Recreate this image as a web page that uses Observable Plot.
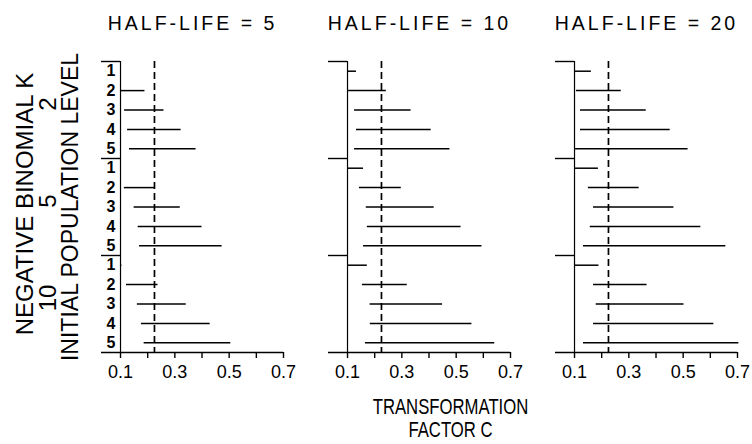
<!DOCTYPE html>
<html><head><meta charset="utf-8">
<script src="https://cdn.jsdelivr.net/npm/d3@7"></script>
<script src="https://cdn.jsdelivr.net/npm/@observablehq/plot@0.6"></script>
<style>
body{margin:0;background:#fff}
</style></head><body><div id="chart"></div>
<script>
// ---- data ----
const halfLives = [5, 10, 20];
const kValues = [2, 5, 10];
const popLevels = [1, 2, 3, 4, 5];
const xTicks = [0.1, 0.2, 0.3, 0.4, 0.5, 0.6, 0.7];
const xTickLabels = [0.1, 0.3, 0.5, 0.7];
const trueC = 0.225;
const axisC = 0.1;
const xStart = 0.03;
// interval ends, 15 rows each: K=2 levels 1-5, K=5 levels 1-5, K=10 levels 1-5
const lowHL5   = [0.100, 0.100, 0.115, 0.126, 0.133, 0.100, 0.114, 0.150, 0.165, 0.170, 0.100, 0.122, 0.162, 0.177, 0.187];
const highHL5  = [0.100, 0.190, 0.260, 0.323, 0.378, 0.100, 0.225, 0.320, 0.400, 0.474, 0.105, 0.238, 0.342, 0.430, 0.506];
const lowHL10  = [0.100, 0.104, 0.126, 0.133, 0.126, 0.100, 0.144, 0.169, 0.173, 0.159, 0.100, 0.155, 0.183, 0.184, 0.166];
const highHL10 = [0.133, 0.243, 0.334, 0.408, 0.477, 0.159, 0.298, 0.419, 0.518, 0.595, 0.173, 0.320, 0.450, 0.558, 0.642];
const lowHL20  = [0.100, 0.107, 0.122, 0.122, 0.104, 0.100, 0.151, 0.170, 0.158, 0.133, 0.100, 0.170, 0.180, 0.170, 0.133];
const highHL20 = [0.162, 0.272, 0.364, 0.452, 0.518, 0.188, 0.338, 0.466, 0.565, 0.657, 0.190, 0.367, 0.503, 0.613, 0.705];

const lows = [lowHL5, lowHL10, lowHL20];
const highs = [highHL5, highHL10, highHL20];
const rows = [];
halfLives.forEach((hl, h) => {
  kValues.forEach((k, g) => {
    popLevels.forEach((lev, j) => {
      const i = g * popLevels.length + j;
      rows.push({hl, k, level: lev, row: i, lo: lows[h][i], hi: highs[h][i]});
    });
  });
});
const nRows = kValues.length * popLevels.length;
const yTop = -0.5, yBottom = nRows - 0.5;
const groupBounds = kValues.map((k, g) => g * popLevels.length - 0.5);
const groups = kValues.map((k, g) => ({k, center: g * popLevels.length + (popLevels.length - 1) / 2}));
const first = halfLives[0];
const mid = halfLives[1];

const chart = Plot.plot({
  width: 752,
  height: 444,
  marginLeft: 100,
  marginRight: 13,
  marginTop: 61,
  marginBottom: 92,
  style: {fontFamily: "'Liberation Sans', Arial, sans-serif", color: "black", background: "white"},
  fx: {domain: halfLives, paddingInner: 0.197, paddingOuter: 0, label: null},
  x: {domain: [xStart, 0.7]},
  y: {domain: [yBottom, yTop], axis: null},
  marks: [
    Plot.axisFx({anchor: "top", tickSize: 0, tickPadding: 32, fontSize: 19.5, tickFormat: d => `HALF-LIFE = ${d}`, label: null}),
    Plot.axisX({ticks: xTicks, tickSize: 6, tickPadding: 7, fontSize: 18, strokeWidth: 1.4,
      tickFormat: d => xTickLabels.includes(d) ? d.toFixed(1) : "", label: null}),
    Plot.ruleY([yBottom], {stroke: "black", strokeWidth: 1.5}),
    Plot.ruleY(groupBounds, {x1: xStart, x2: axisC, stroke: "black", strokeWidth: 1.4}),
    Plot.ruleX([axisC], {y1: yTop, y2: yBottom, stroke: "black", strokeWidth: 1.2}),
    Plot.ruleX([trueC], {y1: yTop, y2: yBottom, stroke: "black", strokeWidth: 1.7, strokeDasharray: "7,4"}),
    Plot.ruleY(rows, {fx: "hl", y: "row", x1: "lo", x2: "hi", stroke: "black", strokeWidth: 1.5}),
    Plot.text(rows.filter(d => d.hl === first), {fx: "hl", y: "row", x: (xStart + axisC) / 2,
      text: d => String(d.level), fontSize: 16, fontWeight: "bold"}),
    Plot.text(groups, {fx: () => first, y: "center", frameAnchor: "left", textAnchor: "middle", dx: -53, dy: -6, rotate: -90,
      text: d => String(d.k), fontSize: 24}),
    Plot.text(["NEGATIVE BINOMIAL K"], {fx: () => first, y: () => (nRows - 1) / 2, frameAnchor: "left", textAnchor: "middle",
      dx: -76, dy: -3, rotate: -90, fontSize: 24}),
    Plot.text(["INITIAL POPULATION LEVEL"], {fx: () => first, y: () => (nRows - 1) / 2, frameAnchor: "left", textAnchor: "middle",
      dx: -30.5, dy: 0, rotate: -90, fontSize: 23}),
    Plot.text(["TRANSFORMATION\nFACTOR C"], {fx: () => mid, frameAnchor: "bottom", dx: 31, dy: 45,
      lineAnchor: "top", fontSize: 22, lineHeight: 1.05, className: "xlabel"})
  ]
});
document.getElementById("chart").appendChild(chart);
// condense the x label horizontally
d3.select(chart).selectAll(".xlabel text").each(function() {
  const t = this.getAttribute("transform") || "";
  this.setAttribute("transform", t + " scale(0.76,1)");
});
// widen facet titles
d3.select(chart).selectAll('g[aria-label="fx-axis tick label"] text').style("letter-spacing", "3px");
</script></body></html>
